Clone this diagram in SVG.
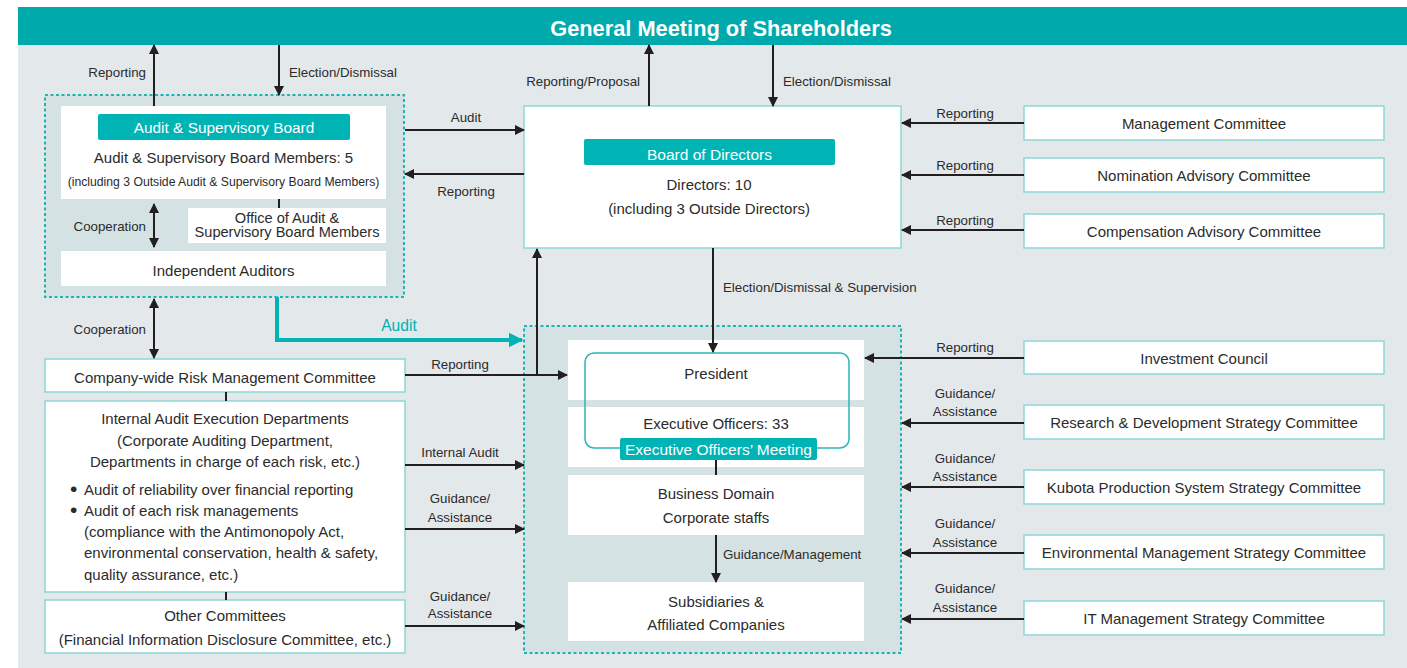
<svg xmlns="http://www.w3.org/2000/svg" width="1407" height="668" viewBox="0 0 1407 668">
<style>
text{font-family:"Liberation Sans",Arial,sans-serif;fill:#2b2b2b}
.t{font-size:15px;text-anchor:middle}
.s{font-size:13.3px;text-anchor:middle}
.sl{font-size:13.3px;text-anchor:start}
.sr{font-size:13.3px;text-anchor:end}
.w{fill:#fff}
.box{fill:#fff;stroke:#8fd6d6;stroke-width:1.5}
.wb{fill:#fff}
.lab{fill:#00b4b6}
.grp{fill:#d5e2e3;stroke:#1fb3b6;stroke-width:2;stroke-dasharray:3 2.5}
.c{stroke:#231f20;stroke-width:2;fill:none}
.a{marker-end:url(#ah)}
.d{marker-start:url(#ah);marker-end:url(#ah)}
.b{font-size:21px}
</style>
<defs>
<marker id="ah" viewBox="0 0 10 10" refX="9" refY="5" markerWidth="11" markerHeight="10" markerUnits="userSpaceOnUse" orient="auto-start-reverse">
<path d="M0,0 L10,5 L0,10 z" fill="#231f20"/>
</marker>
<marker id="aht" viewBox="0 0 10 10" refX="9" refY="5" markerWidth="15" markerHeight="15" markerUnits="userSpaceOnUse" orient="auto">
<path d="M0,0 L10,5 L0,10 z" fill="#00b4b6"/>
</marker>
</defs>
<rect x="18" y="7" width="1389" height="661" fill="#e3e8eb"/>
<g id="shareholders">
<rect x="18" y="7" width="1389" height="38" fill="#00a9ab"/>
<text x="721" y="36" text-anchor="middle" style="font-size:21.8px;font-weight:bold;fill:#fff">General Meeting of Shareholders</text>
</g>
<g id="audit-group">
<rect class="grp" x="45" y="95" width="359" height="202"/>
<g id="audit-board">
<rect class="wb" x="61" y="106" width="325" height="93"/>
<rect class="lab" x="98" y="114" width="252" height="26" rx="2"/>
<text class="t w" x="224" y="133" style="font-size:15.4px">Audit &amp; Supervisory Board</text>
<text class="t" x="223.5" y="163">Audit &amp; Supervisory Board Members: 5</text>
<text class="t" x="223.5" y="186" style="font-size:12.2px">(including 3 Outside Audit &amp; Supervisory Board Members)</text>
</g>
<g id="office">
<rect class="wb" x="188" y="208" width="198" height="35"/>
<text class="t" x="287" y="222.5" style="font-size:14.6px">Office of Audit &amp;</text>
<text class="t" x="287" y="237" style="font-size:14.6px">Supervisory Board Members</text>
</g>
<g id="independent-auditors">
<rect class="wb" x="61" y="251" width="325" height="35"/>
<text class="t" x="223.5" y="276">Independent Auditors</text>
</g>
</g>
<g id="board">
<rect class="box" x="524" y="106" width="377" height="142"/>
<rect class="lab" x="584" y="139" width="251" height="26" rx="2"/>
<text class="t w" x="709.5" y="160" style="font-size:15.5px">Board of Directors</text>
<text class="t" x="709" y="190">Directors: 10</text>
<text class="t" x="709" y="214">(including 3 Outside Directors)</text>
</g>
<g id="management-committee"><rect class="box" x="1024" y="106" width="360" height="34"/><text class="t" x="1204" y="129">Management Committee</text></g>
<g id="nomination-committee"><rect class="box" x="1024" y="158" width="360" height="34"/><text class="t" x="1204" y="181">Nomination Advisory Committee</text></g>
<g id="compensation-committee"><rect class="box" x="1024" y="214" width="360" height="34"/><text class="t" x="1204" y="237">Compensation Advisory Committee</text></g>
<g id="investment-council"><rect class="box" x="1024" y="341" width="360" height="33"/><text class="t" x="1204" y="363.5">Investment Council</text></g>
<g id="rd-committee"><rect class="box" x="1024" y="405" width="360" height="34"/><text class="t" x="1204" y="428">Research &amp; Development Strategy Committee</text></g>
<g id="kps-committee"><rect class="box" x="1024" y="470" width="360" height="34"/><text class="t" x="1204" y="493">Kubota Production System Strategy Committee</text></g>
<g id="env-committee"><rect class="box" x="1024" y="535" width="360" height="34"/><text class="t" x="1204" y="558">Environmental Management Strategy Committee</text></g>
<g id="it-committee"><rect class="box" x="1024" y="601" width="360" height="34"/><text class="t" x="1204" y="624">IT Management Strategy Committee</text></g>
<g id="executive-group">
<rect class="grp" x="524" y="326" width="377" height="327"/>
<g id="president"><rect class="wb" x="568" y="340" width="296" height="60"/><text class="t" x="716" y="379">President</text></g>
<g id="executive-officers"><rect class="wb" x="568" y="407" width="296" height="60"/><text class="t" x="716" y="429">Executive Officers: 33</text></g>
<g id="executive-meeting">
<rect x="585" y="353" width="264" height="95" rx="9" fill="none" stroke="#2bb5b7" stroke-width="1.5"/>
<rect class="lab" x="620" y="438" width="197" height="22" rx="2"/>
<text class="t w" x="718.5" y="455" style="font-size:15.5px">Executive Officers’ Meeting</text>
</g>
<g id="business-domain"><rect class="wb" x="568" y="475" width="296" height="60"/><text class="t" x="716" y="499">Business Domain</text><text class="t" x="716" y="523">Corporate staffs</text></g>
<g id="subsidiaries"><rect class="wb" x="568" y="582" width="296" height="59"/><text class="t" x="716" y="607">Subsidiaries &amp;</text><text class="t" x="716" y="630">Affiliated Companies</text></g>
</g>
<g id="risk-committee"><rect class="box" x="45" y="359" width="360" height="33"/><text class="t" x="225" y="383">Company-wide Risk Management Committee</text></g>
<g id="internal-audit">
<rect class="box" x="45" y="401" width="360" height="191"/>
<text class="t" x="225" y="424">Internal Audit Execution Departments</text>
<text class="t" x="225" y="446">(Corporate Auditing Department,</text>
<text class="t" x="225" y="467">Departments in charge of each risk, etc.)</text>
<text class="b" x="70" y="496">•</text>
<text x="84" y="495" style="font-size:15px">Audit of reliability over financial reporting</text>
<text class="b" x="70" y="517">•</text>
<text x="84" y="516" style="font-size:15px">Audit of each risk managements</text>
<text x="84" y="537" style="font-size:15px">(compliance with the Antimonopoly Act,</text>
<text x="84" y="558" style="font-size:15px">environmental conservation, health &amp; safety,</text>
<text x="84" y="580" style="font-size:15px">quality assurance, etc.)</text>
</g>
<g id="other-committees"><rect class="box" x="45" y="600" width="360" height="53"/><text class="t" x="225" y="621">Other Committees</text><text class="t" x="225" y="645">(Financial Information Disclosure Committee, etc.)</text></g>
<g id="connectors">
<line class="c a" x1="154" y1="106" x2="154" y2="45"/>
<text class="sr" x="146" y="77">Reporting</text>
<line class="c a" x1="279" y1="45" x2="279" y2="95"/>
<text class="sl" x="289" y="77">Election/Dismissal</text>
<line class="c d" x1="154" y1="204" x2="154" y2="247"/>
<text class="sr" x="146" y="231">Cooperation</text>
<line class="c" x1="279" y1="199" x2="279" y2="208"/>
<line class="c d" x1="154" y1="299" x2="154" y2="358"/>
<text class="sr" x="146" y="334">Cooperation</text>
<line class="c a" x1="405" y1="130" x2="524" y2="130"/>
<text class="s" x="466" y="122">Audit</text>
<line class="c a" x1="524" y1="174" x2="405" y2="174"/>
<text class="s" x="466" y="196">Reporting</text>
<line class="c a" x1="649" y1="106" x2="649" y2="45"/>
<text class="sr" x="640" y="86">Reporting/Proposal</text>
<line class="c a" x1="773" y1="45" x2="773" y2="106"/>
<text class="sl" x="783" y="86">Election/Dismissal</text>
<line class="c a" x1="1024" y1="123" x2="902" y2="123"/>
<text class="s" x="965" y="117.5">Reporting</text>
<line class="c a" x1="1024" y1="175" x2="902" y2="175"/>
<text class="s" x="965" y="170">Reporting</text>
<line class="c a" x1="1024" y1="230" x2="902" y2="230"/>
<text class="s" x="965" y="225">Reporting</text>
<line class="c a" x1="713" y1="248" x2="713" y2="352"/>
<text class="sl" x="723" y="292">Election/Dismissal &amp; Supervision</text>
<line class="c a" x1="405" y1="375" x2="567" y2="375"/>
<line class="c a" x1="537" y1="376" x2="537" y2="249"/>
<text class="s" x="460" y="369">Reporting</text>
<path d="M277,297 V340 H522" fill="none" stroke="#00b4b6" stroke-width="4" marker-end="url(#aht)"/>
<text x="399" y="331" style="font-size:15.6px;text-anchor:middle;fill:#00b0b3">Audit</text>
<line class="c" x1="226" y1="392" x2="226" y2="401"/>
<line class="c" x1="226" y1="592" x2="226" y2="600"/>
<line class="c a" x1="405" y1="465" x2="524" y2="465"/>
<text class="s" x="460" y="457">Internal Audit</text>
<line class="c a" x1="405" y1="529" x2="524" y2="529"/>
<text class="s" x="460" y="503">Guidance/</text>
<text class="s" x="460" y="522">Assistance</text>
<line class="c a" x1="405" y1="626" x2="524" y2="626"/>
<text class="s" x="460" y="601">Guidance/</text>
<text class="s" x="460" y="618">Assistance</text>
<line class="c a" x1="1024" y1="358" x2="865" y2="358"/>
<text class="s" x="965" y="352">Reporting</text>
<line class="c a" x1="1024" y1="423" x2="902" y2="423"/>
<text class="s" x="965" y="398">Guidance/</text>
<text class="s" x="965" y="416">Assistance</text>
<line class="c a" x1="1024" y1="487" x2="902" y2="487"/>
<text class="s" x="965" y="463">Guidance/</text>
<text class="s" x="965" y="481">Assistance</text>
<line class="c a" x1="1024" y1="553" x2="902" y2="553"/>
<text class="s" x="965" y="528">Guidance/</text>
<text class="s" x="965" y="547">Assistance</text>
<line class="c a" x1="1024" y1="619" x2="902" y2="619"/>
<text class="s" x="965" y="593">Guidance/</text>
<text class="s" x="965" y="612">Assistance</text>
<line class="c" x1="716" y1="460" x2="716" y2="475"/>
<line class="c a" x1="716" y1="535" x2="716" y2="582"/>
<text class="sl" x="723" y="559">Guidance/Management</text>
</g>
</svg>
